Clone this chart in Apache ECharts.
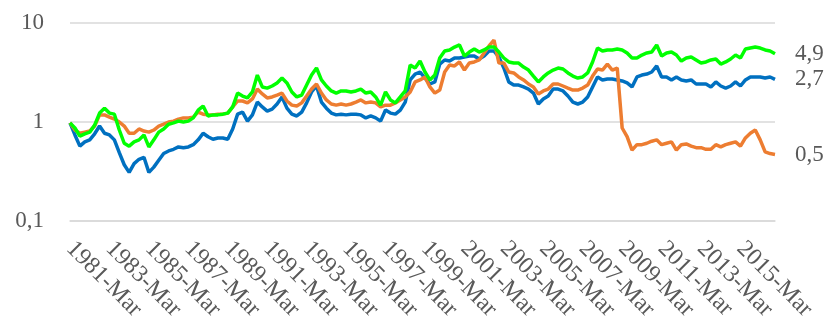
<!DOCTYPE html>
<html>
<head>
<meta charset="utf-8">
<script src="https://cdn.jsdelivr.net/npm/echarts@6/dist/echarts.min.js"></script>
<style>
  html, body { margin: 0; padding: 0; background: #fff; }
  #main { width: 833px; height: 330px; }
</style>
</head>
<body>
<div id="main"></div>
<script>
// quarterly observations, 1981-Mar .. 2016-Dec
var startYear = 1981;
var monthNames = ['Mar', 'Jun', 'Sep', 'Dec'];

var blueValues = [
  0.98, 0.74, 0.57, 0.63, 0.66, 0.76, 0.91, 0.77, 0.74, 0.66,
  0.49, 0.37, 0.31, 0.38, 0.42, 0.44, 0.31, 0.35, 0.41, 0.48,
  0.51, 0.53, 0.56, 0.55, 0.56, 0.59, 0.66, 0.77, 0.71, 0.67,
  0.69, 0.69, 0.67, 0.85, 1.20, 1.26, 1.02, 1.18, 1.59, 1.42,
  1.29, 1.35, 1.52, 1.79, 1.38, 1.20, 1.15, 1.26, 1.56, 2.01,
  2.31, 1.59, 1.38, 1.23, 1.18, 1.20, 1.18, 1.20, 1.20, 1.18,
  1.10, 1.15, 1.10, 1.02, 1.32, 1.23, 1.20, 1.32, 1.59, 2.66,
  3.05, 3.20, 2.78, 2.42, 2.54, 3.85, 4.23, 4.13, 4.43, 4.43,
  4.54, 4.64, 4.64, 4.33, 4.64, 5.21, 5.21, 4.54, 3.51, 2.54,
  2.36, 2.36, 2.26, 2.15, 1.96, 1.52, 1.71, 1.83, 2.15, 2.15,
  2.06, 1.83, 1.59, 1.52, 1.59, 1.79, 2.26, 2.85, 2.66, 2.72,
  2.72, 2.66, 2.60, 2.48, 2.26, 2.85, 2.98, 3.05, 3.20, 3.68,
  2.85, 2.85, 2.66, 2.85, 2.66, 2.60, 2.66, 2.42, 2.42, 2.42,
  2.26, 2.54, 2.31, 2.20, 2.31, 2.54, 2.31, 2.66, 2.85, 2.85,
  2.85, 2.78, 2.85, 2.70
];

var orangeValues = [
  0.98, 0.83, 0.77, 0.79, 0.81, 0.91, 1.18, 1.18, 1.12, 1.07,
  1.00, 0.91, 0.77, 0.77, 0.85, 0.81, 0.79, 0.83, 0.91, 0.95,
  1.00, 1.02, 1.07, 1.10, 1.10, 1.12, 1.26, 1.20, 1.18, 1.18,
  1.20, 1.20, 1.23, 1.42, 1.63, 1.63, 1.56, 1.71, 2.15, 1.92,
  1.75, 1.79, 1.87, 1.96, 1.63, 1.48, 1.45, 1.56, 1.83, 2.15,
  2.42, 1.96, 1.67, 1.52, 1.48, 1.52, 1.48, 1.52, 1.59, 1.67,
  1.56, 1.59, 1.56, 1.42, 1.48, 1.48, 1.56, 1.67, 1.79, 2.01,
  2.54, 2.66, 2.85, 2.26, 1.96, 2.10, 3.20, 3.76, 3.68, 4.04,
  3.35, 3.94, 4.04, 4.23, 4.98, 5.86, 6.73, 3.94, 3.94, 3.20,
  3.13, 2.85, 2.66, 2.42, 2.26, 1.92, 2.06, 2.15, 2.42, 2.42,
  2.31, 2.20, 2.10, 2.10, 2.20, 2.36, 2.91, 3.43, 3.35, 3.85,
  3.35, 3.51, 0.87, 0.71, 0.52, 0.59, 0.59, 0.61, 0.64, 0.66,
  0.59, 0.61, 0.63, 0.52, 0.59, 0.60, 0.57, 0.55, 0.55, 0.53,
  0.53, 0.59, 0.56, 0.59, 0.61, 0.63, 0.57, 0.69, 0.77, 0.83,
  0.66, 0.50, 0.48, 0.47
];

var greenValues = [
  0.98, 0.87, 0.72, 0.76, 0.79, 0.93, 1.23, 1.38, 1.23, 1.20,
  0.83, 0.61, 0.57, 0.63, 0.66, 0.74, 0.56, 0.66, 0.79, 0.85,
  0.95, 0.98, 1.02, 1.00, 1.02, 1.10, 1.32, 1.45, 1.15, 1.18,
  1.18, 1.20, 1.23, 1.42, 1.96, 1.83, 1.75, 2.01, 2.98, 2.26,
  2.20, 2.31, 2.48, 2.78, 2.48, 2.01, 1.79, 1.87, 2.36, 2.98,
  3.51, 2.66, 2.31, 2.06, 1.96, 2.06, 2.06, 2.01, 2.06, 2.15,
  1.96, 2.01, 1.79, 1.48, 2.01, 1.67, 1.56, 1.79, 2.06, 3.76,
  3.51, 4.13, 3.20, 2.66, 2.98, 4.43, 5.21, 5.34, 5.72, 6.00,
  4.64, 5.09, 5.46, 5.09, 5.34, 5.72, 5.72, 5.09, 4.43, 4.04,
  3.94, 3.94, 3.59, 3.35, 2.91, 2.54, 2.85, 3.13, 3.35, 3.51,
  3.43, 3.13, 2.91, 2.78, 2.85, 3.13, 4.04, 5.59, 5.21, 5.34,
  5.34, 5.46, 5.34, 4.98, 4.43, 4.43, 4.75, 4.98, 5.09, 6.00,
  4.64, 4.98, 5.09, 4.75, 4.13, 4.43, 4.54, 4.23, 3.94, 4.04,
  4.23, 4.33, 3.85, 4.04, 4.33, 4.75, 4.43, 5.46, 5.59, 5.72,
  5.59, 5.34, 5.21, 4.90
];

var categories = [];
for (var i = 0; i < blueValues.length; i++) {
  categories.push((startYear + Math.floor(i / 4)) + '-' + monthNames[i % 4]);
}

var font = '"Liberation Serif", "Times New Roman", serif';
var textColor = '#595959';
var gridColor = '#D9D9D9';

function comma(v) {
  return String(v).replace('.', ',');
}

function makeSeries(name, values, color) {
  return {
    name: name,
    type: 'line',
    data: values,
    symbol: 'none',
    lineStyle: { color: color, width: 3.5 },
    itemStyle: { color: color },
    endLabel: {
      show: true,
      distance: 20,
      color: textColor,
      fontFamily: font,
      fontSize: 23,
      formatter: function (p) { return comma(p.value.toFixed(1)); }
    }
  };
}

var myChart = echarts.init(document.getElementById('main'));
myChart.setOption({
  backgroundColor: '#fff',
  animation: false,
  grid: { left: 70, right: 58, top: 23, bottom: 109 },
  xAxis: {
    type: 'category',
    data: categories,
    boundaryGap: false,
    axisLine: { show: true, lineStyle: { color: gridColor, width: 1.5 } },
    axisTick: { show: false },
    axisLabel: {
      interval: 7,
      rotate: -45,
      margin: 24,
      color: textColor,
      fontFamily: font,
      fontSize: 24
    },
    splitLine: { show: false }
  },
  yAxis: {
    type: 'log',
    logBase: 10,
    min: 0.1,
    max: 10,
    interval: 1,
    axisLine: { show: false },
    axisTick: { show: false },
    axisLabel: {
      margin: 26,
      color: textColor,
      fontFamily: font,
      fontSize: 23,
      formatter: function (v) { return comma(v); }
    },
    splitLine: { lineStyle: { color: gridColor, width: 1.5 } }
  },
  series: [
    makeSeries('blue', blueValues, '#0070C0'),
    makeSeries('orange', orangeValues, '#ED7D31'),
    makeSeries('green', greenValues, '#00FF00')
  ]
});
</script>
</body>
</html>
